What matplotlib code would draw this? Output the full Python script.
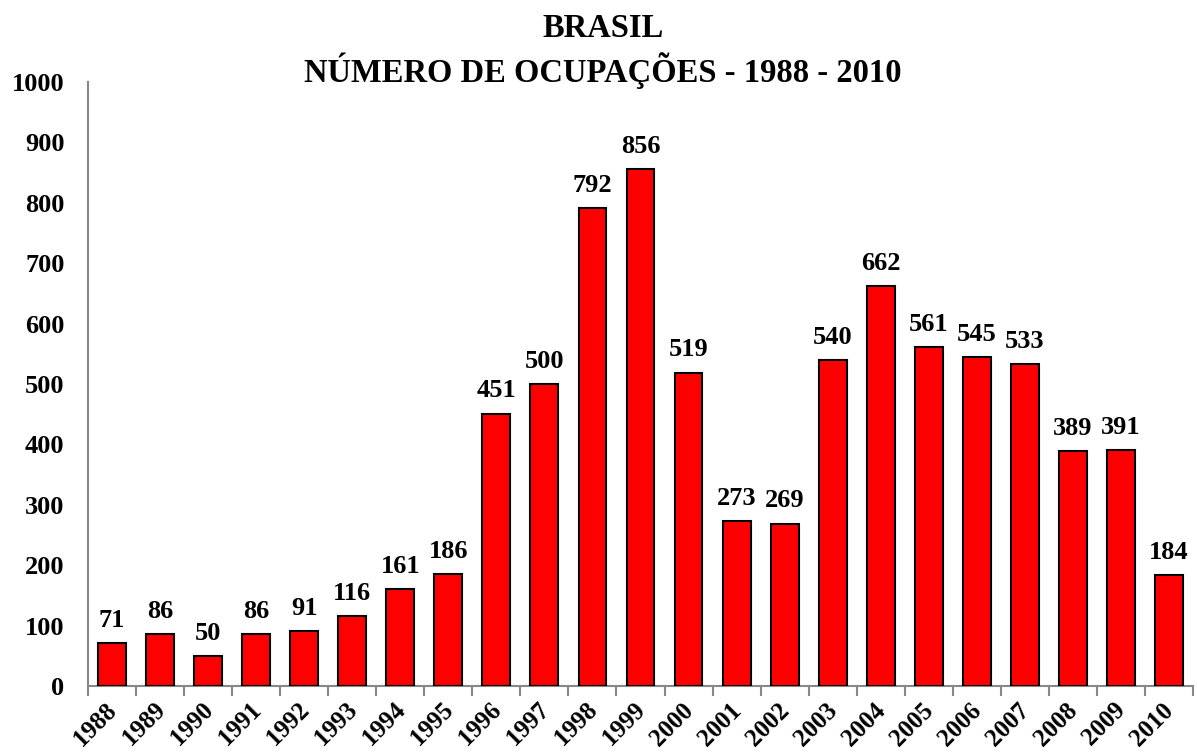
import matplotlib
matplotlib.use("Agg")
import matplotlib.pyplot as plt
from matplotlib.transforms import ScaledTranslation

years = ["1988", "1989", "1990", "1991", "1992", "1993", "1994", "1995", "1996", "1997",
         "1998", "1999", "2000", "2001", "2002", "2003", "2004", "2005", "2006", "2007",
         "2008", "2009", "2010"]
values = [71, 86, 50, 86, 91, 116, 161, 186, 451, 500, 792, 856, 519, 273, 269, 540,
          662, 561, 545, 533, 389, 391, 184]
yticks = [0, 100, 200, 300, 400, 500, 600, 700, 800, 900, 1000]

plt.rcParams['font.family'] = ['Liberation Serif', 'DejaVu Serif']
plt.rcParams['font.weight'] = 'bold'

fig = plt.figure(figsize=(11.97, 7.56), dpi=100)
ax = fig.add_axes([88/1197, 1-686/756, (1193-88)/1197, (686-82)/756])

x = list(range(len(years)))
ax.bar(x, values, width=0.58, color='#ff0000', edgecolor='black', linewidth=1.5, zorder=3)
for xi, v in zip(x, values):
    ax.annotate(str(v), (xi, v), xytext=(0, 8), textcoords='offset points',
                ha='center', va='bottom', fontsize=19, fontweight='bold')

ax.set_xlim(-0.5, len(years) - 0.5)
ax.set_ylim(0, 1000)
ax.set_yticks(yticks)
ax.set_yticklabels([str(t) for t in yticks], fontsize=19, fontweight='bold')
ax.tick_params(axis='y', length=0, pad=17)

ax.set_xticks([i - 0.5 for i in range(len(years) + 1)], minor=False)
ax.set_xticklabels([])
ax.tick_params(axis='x', which='major', length=7, color='#888888', width=1.5, direction='out')
ax.set_xticks(x, minor=True)
ax.set_xticklabels(years, minor=True, rotation=45, ha='right', rotation_mode='anchor',
                   fontsize=18, fontweight='bold')
ax.tick_params(axis='x', which='minor', length=0, pad=9)
offset = ScaledTranslation(-7/100, 0, fig.dpi_scale_trans)
for lbl in ax.get_xticklabels(minor=True):
    lbl.set_transform(lbl.get_transform() + offset)

for s in ['top', 'right']:
    ax.spines[s].set_visible(False)
for s in ['left', 'bottom']:
    ax.spines[s].set_color('#888888')
    ax.spines[s].set_linewidth(1.5)

fig.text(603/1197, 1-37/756, "BRASIL", ha='center', va='baseline', fontsize=23.5, fontweight='bold')
fig.text(603/1197, 1-82/756, "NÚMERO DE OCUPAÇÕES - 1988 - 2010", ha='center', va='baseline',
         fontsize=23.5, fontweight='bold')

fig.savefig("out.png", dpi=100)
